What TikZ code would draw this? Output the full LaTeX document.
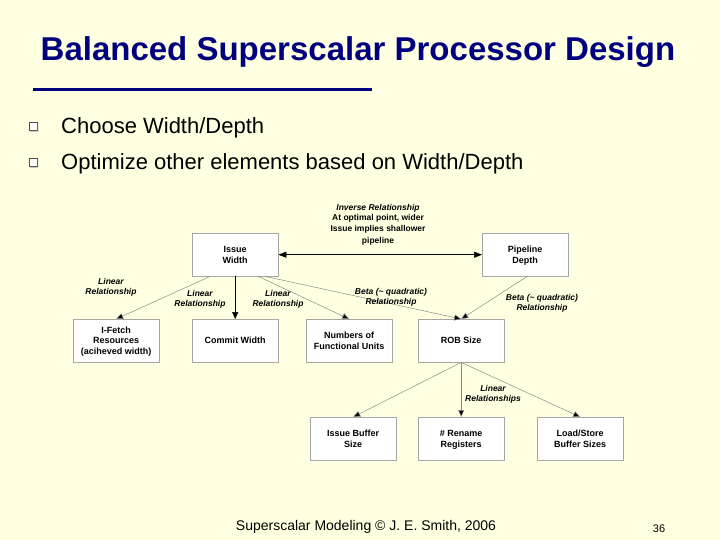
\documentclass[tikz,border=0pt]{standalone}
\usepackage{fontspec}
\setmainfont{Liberation Sans}
\usetikzlibrary{arrows.meta,shadows}
\definecolor{bg}{HTML}{FFFFE1}
\definecolor{ttl}{HTML}{00007F}
\begin{document}
\begin{tikzpicture}[x=1pt,y=-1pt,
 box/.style={draw=black!35,fill=white,minimum width=86pt,minimum height=43pt,align=center,font=\fontsize{9}{10.5}\selectfont\bfseries,inner sep=1pt,anchor=north west,text depth=0pt},
 lbl/.style={align=center,font=\fontsize{8.5}{10}\selectfont\bfseries\itshape,inner sep=0pt},
 con/.style={draw=black!45,line width=0.5pt,-{Triangle[length=7pt,width=6pt,fill=black]}},
 bul/.style={font=\fontsize{22}{24}\selectfont,anchor=west,inner sep=0pt}]
\fill[bg] (0,0) rectangle (720,540);
\useasboundingbox (0,0) rectangle (720,540);
\node[text=ttl,font=\fontsize{33}{36}\selectfont\bfseries,inner sep=0pt,
  postaction={}] (title) at (358,52) {Balanced Superscalar Processor Design};
\fill[ttl] (33,88.5) rectangle (372,91.5);
\foreach \yy in {127,163}{
 \draw[black!70,fill=white,line width=0.6pt] (29,\yy-4.5) rectangle (37,\yy+3.5);
 \fill[black!60] (37,\yy-3.5) rectangle (38,\yy+4.5) (30,\yy+3.5) rectangle (38,\yy+4.5);}
\node[bul] (t1) at (61,128) {Choose Width/Depth};
\node[bul] (t2) at (61,164) {Optimize other elements based on Width/Depth};
\node[box] (iw) at (192,233) {Issue\\Width};
\node[box] (pd) at (482,233) {Pipeline\\Depth};
\node[box] (if) at (73,319) {I-Fetch\\Resources\\(aciheved width)};
\node[box] (cw) at (192,319) {Commit Width};
\node[box] (fu) at (306,319) {Numbers of\\Functional Units};
\node[box] (rob) at (418,319) {ROB Size};
\node[box] (ib) at (310,417) {Issue Buffer\\Size};
\node[box] (rr) at (418,417) {\# Rename\\Registers};
\node[box] (ls) at (537,417) {Load/Store\\Buffer Sizes};
\draw[black,line width=0.6pt,{Triangle[length=8pt,width=6pt]}-{Triangle[length=8pt,width=6pt]}] (iw.east) -- (pd.west);
\draw[con] ([xshift=-25pt]iw.south) -- (if.north);
\draw[black,line width=0.6pt,-{Triangle[length=7pt,width=6pt]}] (iw.south) -- (cw.north);
\draw[con] ([xshift=23pt]iw.south) -- (fu.north);
\draw[con] ([xshift=30pt]iw.south) -- (rob.north);
\draw[con] ([xshift=2pt]pd.south) -- (rob.north);
\draw[con] (rob.south) -- (ib.north);
\draw[con] (rob.south) -- (rr.north);
\draw[con] (rob.south) -- (ls.north);
\node[lbl] (l0) at (378,208) {Inverse Relationship};
\node[lbl,font=\fontsize{8.5}{11.5}\selectfont\bfseries,anchor=north] (l0b) at (378,214) {At optimal point, wider\\Issue implies shallower\\pipeline};
\node[lbl] (l1) at (111,287) {Linear\\Relationship};
\node[lbl] (l2) at (200,299) {Linear\\Relationship};
\node[lbl] (l3) at (278,299) {Linear\\Relationship};
\node[lbl] (l4) at (391,297) {Beta (\textasciitilde{} quadratic)\\Relationship};
\node[lbl] (l5) at (542,303) {Beta (\textasciitilde{} quadratic)\\Relationship};
\node[lbl] (l6) at (493,394) {Linear\\Relationships};
\node[font=\fontsize{14}{16}\selectfont,inner sep=0pt] (foot) at (366,527) {Superscalar Modeling © J. E. Smith, 2006};
\node[font=\fontsize{11}{12}\selectfont,inner sep=0pt] (pg) at (659,529) {36};
\end{tikzpicture}
\end{document}
